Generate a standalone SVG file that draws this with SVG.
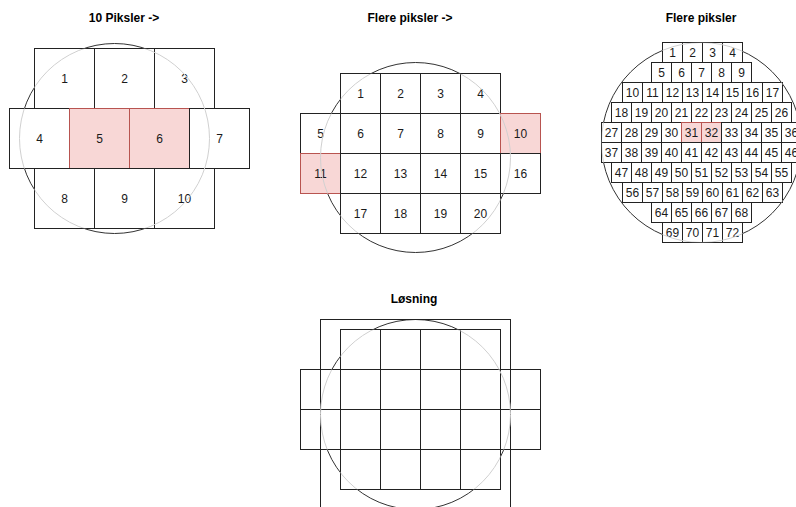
<svg xmlns="http://www.w3.org/2000/svg" width="796" height="507" viewBox="0 0 796 507">
<style>
.bg{fill:#ffffff}
.c{fill:#ffffff;stroke:#222;stroke-width:1}
.r{fill:#f8d7d6;stroke:#b85450;stroke-width:1}
.o{fill:none;stroke:#222;stroke-width:1}
.cb{fill:none;stroke:#333;stroke-width:1}
.cg{fill:none;stroke:#d0d0d0;stroke-width:1}
text{font-family:"Liberation Sans",Arial,sans-serif;font-size:12px;fill:#1a1a1a;text-anchor:middle}
.t{font-weight:bold;fill:#000}
</style>
<defs>
<clipPath id="clip1">
<rect x="34" y="48" width="180" height="60"/><rect x="9" y="108" width="240" height="60"/><rect x="34" y="168" width="180" height="60"/>
</clipPath>
<clipPath id="clip2">
<rect x="340" y="73" width="160" height="40"/><rect x="300" y="113" width="240" height="80"/><rect x="340" y="193" width="160" height="40"/>
</clipPath>
<clipPath id="clip3">
<rect x="662" y="42" width="80" height="20"/><rect x="651" y="62" width="100" height="20"/><rect x="622" y="82" width="160" height="20"/><rect x="611" y="102" width="180" height="20"/><rect x="601" y="122" width="200" height="40"/><rect x="611" y="162" width="180" height="20"/><rect x="622" y="182" width="160" height="20"/><rect x="651" y="202" width="100" height="20"/><rect x="662" y="222" width="80" height="20"/>
</clipPath>
<clipPath id="clip4">
<rect x="340" y="329" width="160" height="160"/><rect x="300" y="369" width="240" height="80"/>
</clipPath>
</defs>
<rect class="bg" x="0" y="0" width="796" height="507"/>
<g id="titles">
<text class="t" x="124" y="22">10 Piksler -&gt;</text>
<text class="t" x="410" y="22">Flere piksler -&gt;</text>
<text class="t" x="701" y="22">Flere piksler</text>
<text class="t" x="414" y="303">Løsning</text>
</g>
<g id="panel1" transform="translate(0.5,0.5)">
<circle class="cb" cx="114" cy="138" r="95"/>
<g id="p1-1"><rect class="c" x="34" y="48" width="60" height="60"/><text x="64" y="82">1</text></g>
<g id="p1-2"><rect class="c" x="94" y="48" width="60" height="60"/><text x="124" y="82">2</text></g>
<g id="p1-3"><rect class="c" x="154" y="48" width="60" height="60"/><text x="184" y="82">3</text></g>
<g id="p1-4"><rect class="c" x="9" y="108" width="60" height="60"/><text x="39" y="142">4</text></g>
<g id="p1-5"><rect class="r" x="69" y="108" width="60" height="60"/><text x="99" y="142">5</text></g>
<g id="p1-6"><rect class="r" x="129" y="108" width="60" height="60"/><text x="159" y="142">6</text></g>
<g id="p1-7"><rect class="c" x="189" y="108" width="60" height="60"/><text x="219" y="142">7</text></g>
<g id="p1-8"><rect class="c" x="34" y="168" width="60" height="60"/><text x="64" y="202">8</text></g>
<g id="p1-9"><rect class="c" x="94" y="168" width="60" height="60"/><text x="124" y="202">9</text></g>
<g id="p1-10"><rect class="c" x="154" y="168" width="60" height="60"/><text x="184" y="202">10</text></g>
<circle class="cg" cx="114" cy="138" r="95" clip-path="url(#clip1)"/>
</g>
<g id="panel2" transform="translate(0.5,0.5)">
<circle class="cb" cx="415" cy="157" r="95"/>
<g id="p2-1"><rect class="c" x="340" y="73" width="40" height="40"/><text x="360" y="97">1</text></g>
<g id="p2-2"><rect class="c" x="380" y="73" width="40" height="40"/><text x="400" y="97">2</text></g>
<g id="p2-3"><rect class="c" x="420" y="73" width="40" height="40"/><text x="440" y="97">3</text></g>
<g id="p2-4"><rect class="c" x="460" y="73" width="40" height="40"/><text x="480" y="97">4</text></g>
<g id="p2-5"><rect class="c" x="300" y="113" width="40" height="40"/><text x="320" y="137">5</text></g>
<g id="p2-6"><rect class="c" x="340" y="113" width="40" height="40"/><text x="360" y="137">6</text></g>
<g id="p2-7"><rect class="c" x="380" y="113" width="40" height="40"/><text x="400" y="137">7</text></g>
<g id="p2-8"><rect class="c" x="420" y="113" width="40" height="40"/><text x="440" y="137">8</text></g>
<g id="p2-9"><rect class="c" x="460" y="113" width="40" height="40"/><text x="480" y="137">9</text></g>
<g id="p2-10"><rect class="r" x="500" y="113" width="40" height="40"/><text x="520" y="137">10</text></g>
<g id="p2-11"><rect class="r" x="300" y="153" width="40" height="40"/><text x="320" y="177">11</text></g>
<g id="p2-12"><rect class="c" x="340" y="153" width="40" height="40"/><text x="360" y="177">12</text></g>
<g id="p2-13"><rect class="c" x="380" y="153" width="40" height="40"/><text x="400" y="177">13</text></g>
<g id="p2-14"><rect class="c" x="420" y="153" width="40" height="40"/><text x="440" y="177">14</text></g>
<g id="p2-15"><rect class="c" x="460" y="153" width="40" height="40"/><text x="480" y="177">15</text></g>
<g id="p2-16"><rect class="c" x="500" y="153" width="40" height="40"/><text x="520" y="177">16</text></g>
<g id="p2-17"><rect class="c" x="340" y="193" width="40" height="40"/><text x="360" y="217">17</text></g>
<g id="p2-18"><rect class="c" x="380" y="193" width="40" height="40"/><text x="400" y="217">18</text></g>
<g id="p2-19"><rect class="c" x="420" y="193" width="40" height="40"/><text x="440" y="217">19</text></g>
<g id="p2-20"><rect class="c" x="460" y="193" width="40" height="40"/><text x="480" y="217">20</text></g>
<circle class="cg" cx="415" cy="157" r="95" clip-path="url(#clip2)"/>
</g>
<g id="panel3" transform="translate(0.5,0.5)">
<circle class="cb" cx="701" cy="142" r="100"/>
<g id="p3-1"><rect class="c" x="662" y="42" width="20" height="20"/><text x="672" y="56">1</text></g>
<g id="p3-2"><rect class="c" x="682" y="42" width="20" height="20"/><text x="692" y="56">2</text></g>
<g id="p3-3"><rect class="c" x="702" y="42" width="20" height="20"/><text x="712" y="56">3</text></g>
<g id="p3-4"><rect class="c" x="722" y="42" width="20" height="20"/><text x="732" y="56">4</text></g>
<g id="p3-5"><rect class="c" x="651" y="62" width="20" height="20"/><text x="661" y="76">5</text></g>
<g id="p3-6"><rect class="c" x="671" y="62" width="20" height="20"/><text x="681" y="76">6</text></g>
<g id="p3-7"><rect class="c" x="691" y="62" width="20" height="20"/><text x="701" y="76">7</text></g>
<g id="p3-8"><rect class="c" x="711" y="62" width="20" height="20"/><text x="721" y="76">8</text></g>
<g id="p3-9"><rect class="c" x="731" y="62" width="20" height="20"/><text x="741" y="76">9</text></g>
<g id="p3-10"><rect class="c" x="622" y="82" width="20" height="20"/><text x="632" y="96">10</text></g>
<g id="p3-11"><rect class="c" x="642" y="82" width="20" height="20"/><text x="652" y="96">11</text></g>
<g id="p3-12"><rect class="c" x="662" y="82" width="20" height="20"/><text x="672" y="96">12</text></g>
<g id="p3-13"><rect class="c" x="682" y="82" width="20" height="20"/><text x="692" y="96">13</text></g>
<g id="p3-14"><rect class="c" x="702" y="82" width="20" height="20"/><text x="712" y="96">14</text></g>
<g id="p3-15"><rect class="c" x="722" y="82" width="20" height="20"/><text x="732" y="96">15</text></g>
<g id="p3-16"><rect class="c" x="742" y="82" width="20" height="20"/><text x="752" y="96">16</text></g>
<g id="p3-17"><rect class="c" x="762" y="82" width="20" height="20"/><text x="772" y="96">17</text></g>
<g id="p3-18"><rect class="c" x="611" y="102" width="20" height="20"/><text x="621" y="116">18</text></g>
<g id="p3-19"><rect class="c" x="631" y="102" width="20" height="20"/><text x="641" y="116">19</text></g>
<g id="p3-20"><rect class="c" x="651" y="102" width="20" height="20"/><text x="661" y="116">20</text></g>
<g id="p3-21"><rect class="c" x="671" y="102" width="20" height="20"/><text x="681" y="116">21</text></g>
<g id="p3-22"><rect class="c" x="691" y="102" width="20" height="20"/><text x="701" y="116">22</text></g>
<g id="p3-23"><rect class="c" x="711" y="102" width="20" height="20"/><text x="721" y="116">23</text></g>
<g id="p3-24"><rect class="c" x="731" y="102" width="20" height="20"/><text x="741" y="116">24</text></g>
<g id="p3-25"><rect class="c" x="751" y="102" width="20" height="20"/><text x="761" y="116">25</text></g>
<g id="p3-26"><rect class="c" x="771" y="102" width="20" height="20"/><text x="781" y="116">26</text></g>
<g id="p3-27"><rect class="c" x="601" y="122" width="20" height="20"/><text x="611" y="136">27</text></g>
<g id="p3-28"><rect class="c" x="621" y="122" width="20" height="20"/><text x="631" y="136">28</text></g>
<g id="p3-29"><rect class="c" x="641" y="122" width="20" height="20"/><text x="651" y="136">29</text></g>
<g id="p3-30"><rect class="c" x="661" y="122" width="20" height="20"/><text x="671" y="136">30</text></g>
<g id="p3-31"><rect class="r" x="681" y="122" width="20" height="20"/><text x="691" y="136">31</text></g>
<g id="p3-32"><rect class="r" x="701" y="122" width="20" height="20"/><text x="711" y="136">32</text></g>
<g id="p3-33"><rect class="c" x="721" y="122" width="20" height="20"/><text x="731" y="136">33</text></g>
<g id="p3-34"><rect class="c" x="741" y="122" width="20" height="20"/><text x="751" y="136">34</text></g>
<g id="p3-35"><rect class="c" x="761" y="122" width="20" height="20"/><text x="771" y="136">35</text></g>
<g id="p3-36"><rect class="c" x="781" y="122" width="20" height="20"/><text x="791" y="136">36</text></g>
<g id="p3-37"><rect class="c" x="601" y="142" width="20" height="20"/><text x="611" y="156">37</text></g>
<g id="p3-38"><rect class="c" x="621" y="142" width="20" height="20"/><text x="631" y="156">38</text></g>
<g id="p3-39"><rect class="c" x="641" y="142" width="20" height="20"/><text x="651" y="156">39</text></g>
<g id="p3-40"><rect class="c" x="661" y="142" width="20" height="20"/><text x="671" y="156">40</text></g>
<g id="p3-41"><rect class="c" x="681" y="142" width="20" height="20"/><text x="691" y="156">41</text></g>
<g id="p3-42"><rect class="c" x="701" y="142" width="20" height="20"/><text x="711" y="156">42</text></g>
<g id="p3-43"><rect class="c" x="721" y="142" width="20" height="20"/><text x="731" y="156">43</text></g>
<g id="p3-44"><rect class="c" x="741" y="142" width="20" height="20"/><text x="751" y="156">44</text></g>
<g id="p3-45"><rect class="c" x="761" y="142" width="20" height="20"/><text x="771" y="156">45</text></g>
<g id="p3-46"><rect class="c" x="781" y="142" width="20" height="20"/><text x="791" y="156">46</text></g>
<g id="p3-47"><rect class="c" x="611" y="162" width="20" height="20"/><text x="621" y="176">47</text></g>
<g id="p3-48"><rect class="c" x="631" y="162" width="20" height="20"/><text x="641" y="176">48</text></g>
<g id="p3-49"><rect class="c" x="651" y="162" width="20" height="20"/><text x="661" y="176">49</text></g>
<g id="p3-50"><rect class="c" x="671" y="162" width="20" height="20"/><text x="681" y="176">50</text></g>
<g id="p3-51"><rect class="c" x="691" y="162" width="20" height="20"/><text x="701" y="176">51</text></g>
<g id="p3-52"><rect class="c" x="711" y="162" width="20" height="20"/><text x="721" y="176">52</text></g>
<g id="p3-53"><rect class="c" x="731" y="162" width="20" height="20"/><text x="741" y="176">53</text></g>
<g id="p3-54"><rect class="c" x="751" y="162" width="20" height="20"/><text x="761" y="176">54</text></g>
<g id="p3-55"><rect class="c" x="771" y="162" width="20" height="20"/><text x="781" y="176">55</text></g>
<g id="p3-56"><rect class="c" x="622" y="182" width="20" height="20"/><text x="632" y="196">56</text></g>
<g id="p3-57"><rect class="c" x="642" y="182" width="20" height="20"/><text x="652" y="196">57</text></g>
<g id="p3-58"><rect class="c" x="662" y="182" width="20" height="20"/><text x="672" y="196">58</text></g>
<g id="p3-59"><rect class="c" x="682" y="182" width="20" height="20"/><text x="692" y="196">59</text></g>
<g id="p3-60"><rect class="c" x="702" y="182" width="20" height="20"/><text x="712" y="196">60</text></g>
<g id="p3-61"><rect class="c" x="722" y="182" width="20" height="20"/><text x="732" y="196">61</text></g>
<g id="p3-62"><rect class="c" x="742" y="182" width="20" height="20"/><text x="752" y="196">62</text></g>
<g id="p3-63"><rect class="c" x="762" y="182" width="20" height="20"/><text x="772" y="196">63</text></g>
<g id="p3-64"><rect class="c" x="651" y="202" width="20" height="20"/><text x="661" y="216">64</text></g>
<g id="p3-65"><rect class="c" x="671" y="202" width="20" height="20"/><text x="681" y="216">65</text></g>
<g id="p3-66"><rect class="c" x="691" y="202" width="20" height="20"/><text x="701" y="216">66</text></g>
<g id="p3-67"><rect class="c" x="711" y="202" width="20" height="20"/><text x="721" y="216">67</text></g>
<g id="p3-68"><rect class="c" x="731" y="202" width="20" height="20"/><text x="741" y="216">68</text></g>
<g id="p3-69"><rect class="c" x="662" y="222" width="20" height="20"/><text x="672" y="236">69</text></g>
<g id="p3-70"><rect class="c" x="682" y="222" width="20" height="20"/><text x="692" y="236">70</text></g>
<g id="p3-71"><rect class="c" x="702" y="222" width="20" height="20"/><text x="712" y="236">71</text></g>
<g id="p3-72"><rect class="c" x="722" y="222" width="20" height="20"/><text x="732" y="236">72</text></g>
<circle class="cg" cx="701" cy="142" r="100" clip-path="url(#clip3)"/>
</g>
<g id="panel4" transform="translate(0.5,0.5)">
<circle class="cb" cx="415" cy="414" r="95"/>
<g id="p4-wide1"><rect class="c" x="300" y="369" width="240" height="40"/></g>
<g id="p4-wide2"><rect class="c" x="300" y="409" width="240" height="40"/></g>
<g id="p4-grid">
<rect class="c" x="340" y="329" width="40" height="40"/><rect class="c" x="380" y="329" width="40" height="40"/><rect class="c" x="420" y="329" width="40" height="40"/><rect class="c" x="460" y="329" width="40" height="40"/>
<rect class="c" x="340" y="369" width="40" height="40"/><rect class="c" x="380" y="369" width="40" height="40"/><rect class="c" x="420" y="369" width="40" height="40"/><rect class="c" x="460" y="369" width="40" height="40"/>
<rect class="c" x="340" y="409" width="40" height="40"/><rect class="c" x="380" y="409" width="40" height="40"/><rect class="c" x="420" y="409" width="40" height="40"/><rect class="c" x="460" y="409" width="40" height="40"/>
<rect class="c" x="340" y="449" width="40" height="40"/><rect class="c" x="380" y="449" width="40" height="40"/><rect class="c" x="420" y="449" width="40" height="40"/><rect class="c" x="460" y="449" width="40" height="40"/>
</g>
<g id="p4-outer"><rect class="o" x="320" y="319" width="190" height="190"/></g>
<circle class="cg" cx="415" cy="414" r="95" clip-path="url(#clip4)"/>
</g>
<g id="connectors"/>
</svg>
